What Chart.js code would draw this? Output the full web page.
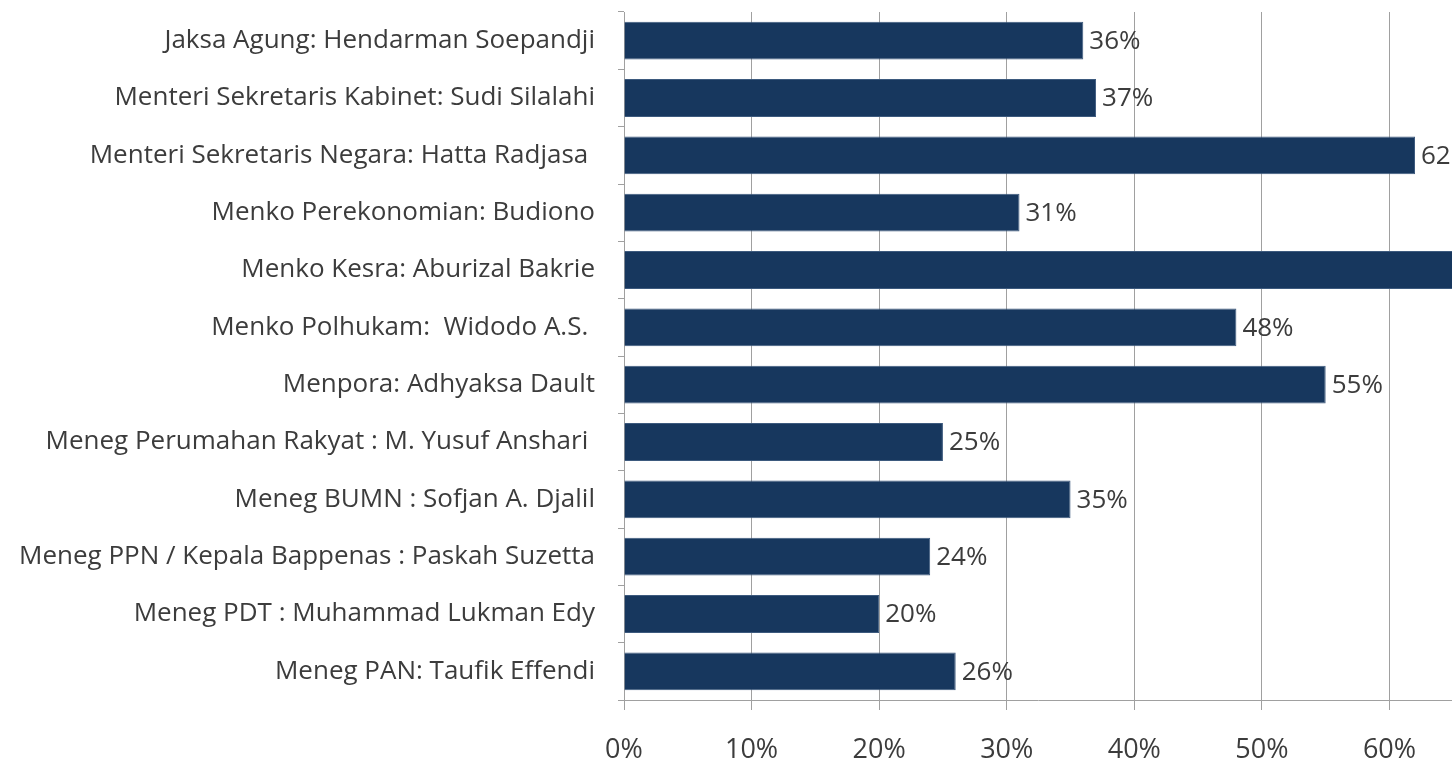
<!DOCTYPE html>
<html>
<head>
<meta charset="utf-8">
<script src="https://cdn.jsdelivr.net/npm/chart.js@4.4.1/dist/chart.umd.min.js"></script>
<style>
  html, body { margin: 0; padding: 0; background: #fff; overflow: hidden; }
  canvas { display: block; }
</style>
</head>
<body>
<canvas id="chart" width="1452" height="764"></canvas>
<script>
const labels = [
  'Jaksa Agung: Hendarman Soepandji',
  'Menteri Sekretaris Kabinet: Sudi Silalahi',
  'Menteri Sekretaris Negara: Hatta Radjasa ',
  'Menko Perekonomian: Budiono',
  'Menko Kesra: Aburizal Bakrie',
  'Menko Polhukam:  Widodo A.S. ',
  'Menpora: Adhyaksa Dault',
  'Meneg Perumahan Rakyat : M. Yusuf Anshari ',
  'Meneg BUMN : Sofjan A. Djalil',
  'Meneg PPN / Kepala Bappenas : Paskah Suzetta',
  'Meneg PDT : Muhammad Lukman Edy',
  'Meneg PAN: Taufik Effendi'
];
const values = [36, 37, 62, 31, 70, 48, 55, 25, 35, 24, 20, 26];
const xTicks = [0, 10, 20, 30, 40, 50, 60];

const FONT = '"Open Sans", Lato, sans-serif';
const TEXT = '#3c3c3c';

// value labels to the right of each bar
const barLabels = {
  id: 'barLabels',
  afterDatasetsDraw(chart) {
    const ctx = chart.ctx;
    const meta = chart.getDatasetMeta(0);
    ctx.save();
    ctx.font = '26px ' + FONT;
    ctx.fillStyle = TEXT;
    ctx.textAlign = 'left';
    ctx.textBaseline = 'middle';
    meta.data.forEach((bar, i) => {
      ctx.fillText(values[i] + '%', bar.x + 6, bar.y + 1);
    });
    ctx.restore();
  }
};

new Chart(document.getElementById('chart'), {
  type: 'bar',
  data: {
    labels: labels,
    datasets: [{
      data: values,
      backgroundColor: '#17375e',
      borderColor: '#3d5a7e',
      borderWidth: 1,
      categoryPercentage: 1,
      barPercentage: 0.66
    }]
  },
  options: {
    indexAxis: 'y',
    responsive: false,
    animation: false,
    layout: { padding: { top: 12, right: 0, bottom: 0, left: 0 } },
    plugins: { legend: { display: false }, tooltip: { enabled: false } },
    scales: {
      x: {
        min: 0,
        max: 64.9,
        afterBuildTicks: s => { s.ticks = xTicks.map(v => ({ value: v })); },
        afterFit: s => { s.height = 64; s.paddingLeft = 0; s.paddingRight = 0; },
        grid: { color: '#a0a0a0', lineWidth: 1, tickLength: 10 },
        border: { color: '#a0a0a0' },
        ticks: {
          callback: v => v + '%',
          font: { size: 27, family: FONT, lineHeight: 1 },
          color: TEXT,
          padding: 27,
          maxRotation: 0
        }
      },
      y: {
        afterFit: s => { s.width = 624; s.paddingTop = 0; s.paddingBottom = 0; },
        grid: { drawOnChartArea: false, color: '#a0a0a0', tickLength: 6 },
        border: { color: '#a0a0a0' },
        ticks: {
          font: { size: 26, family: FONT },
          color: TEXT,
          padding: 23,
          autoSkip: false
        }
      }
    }
  },
  plugins: [barLabels]
});
</script>
</body>
</html>
